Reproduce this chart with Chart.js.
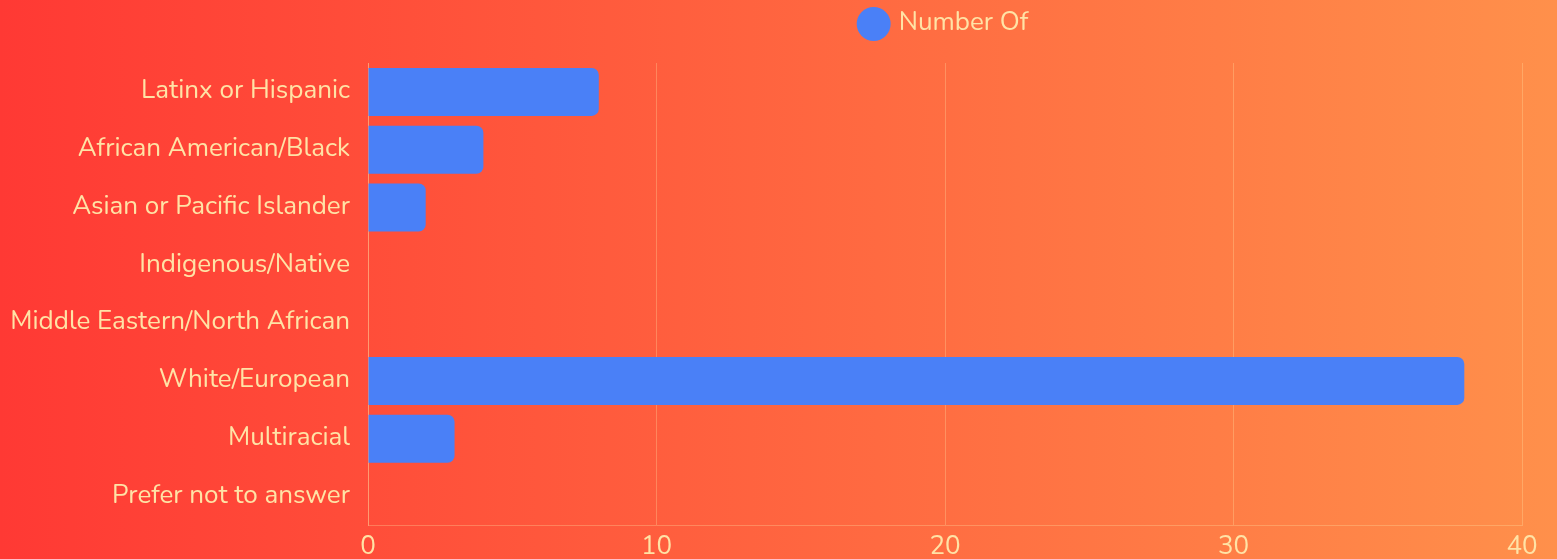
<!DOCTYPE html>
<html>
<head>
<meta charset="utf-8">
<script src="https://cdn.jsdelivr.net/npm/chart.js"></script>
<style>
  html, body { margin: 0; padding: 0; }
  body {
    width: 1557px; height: 559px; overflow: hidden;
    background: linear-gradient(to right, #ff3934, #ff904b);
  }
  #wrap { width: 1557px; height: 559px; }
</style>
</head>
<body>
<div id="wrap"><canvas id="grafico"></canvas></div>
<script>
// Dados do gráfico
const categorias = [
    'Latinx or Hispanic',
    'African American/Black',
    'Asian or Pacific Islander',
    'Indigenous/Native',
    'Middle Eastern/North African',
    'White/European',
    'Multiracial',
    'Prefer not to answer'
];
const valores = [8, 4, 2, 0, 0, 38, 3, 0];
const nomeSerie = 'Number Of';

const corTexto = '#ffe3a6';
const corGrade = 'rgba(255, 227, 166, 0.3)';
const fonte = "Nunito, Lato, 'Open Sans', sans-serif";

Chart.defaults.font.family = fonte;
Chart.defaults.color = corTexto;

// Espaço extra abaixo da legenda
const margemLegenda = {
    id: 'margemLegenda',
    beforeInit(chart) {
        const fitOriginal = chart.legend.fit;
        chart.legend.fit = function () {
            fitOriginal.bind(chart.legend)();
            this.height += 16;
        };
    }
};

const ctx = document.getElementById('grafico').getContext('2d');
new Chart(ctx, {
    type: 'bar',
    data: {
        labels: categorias,
        datasets: [{
            label: nomeSerie,
            data: valores,
            backgroundColor: '#4a80f7',
            borderRadius: 7,
            borderSkipped: 'start',
            barPercentage: 1,
            categoryPercentage: 0.83
        }]
    },
    options: {
        indexAxis: 'y',
        responsive: true,
        maintainAspectRatio: false,
        animation: false,
        layout: { padding: { left: 0, right: 35, top: 0, bottom: 0 } },
        plugins: {
            legend: {
                position: 'top',
                fullSize: false,
                labels: {
                    usePointStyle: true,
                    pointStyle: 'circle',
                    boxWidth: 24,
                    boxHeight: 24,
                    color: corTexto,
                    font: { size: 26 },
                    padding: 11
                }
            },
            tooltip: { enabled: false }
        },
        scales: {
            x: {
                min: 0,
                max: 40,
                ticks: { stepSize: 10, color: corTexto, font: { size: 26 }, padding: 7 },
                grid: { color: corGrade, drawTicks: false },
                border: { color: corGrade },
                afterFit(scale) { scale.height = 32; }
            },
            y: {
                ticks: { color: corTexto, font: { size: 26 }, padding: 18 },
                grid: { display: false, drawTicks: false },
                border: { color: corGrade },
                afterFit(scale) { scale.width = 368; }
            }
        }
    },
    plugins: [margemLegenda]
});
</script>
</body>
</html>
